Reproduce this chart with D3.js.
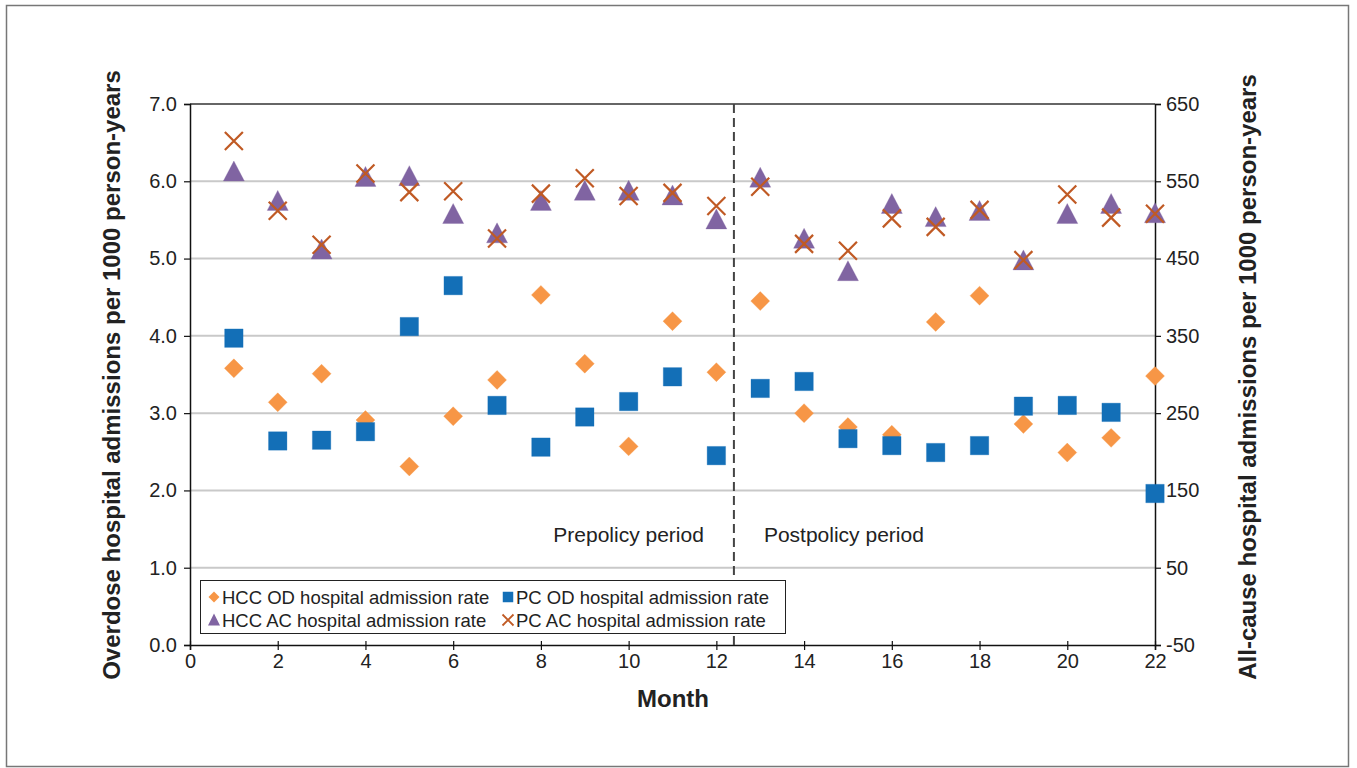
<!DOCTYPE html>
<html>
<head>
<meta charset="utf-8">
<script src="https://cdn.jsdelivr.net/npm/d3@7"></script>
<style>
  body { margin: 0; background: #fff; }
  svg { font-family: "Liberation Sans", Arial, sans-serif; }
  .tick text { fill: #222; }
</style>
</head>
<body>
<svg class="viz" width="1357" height="768"></svg>
<script>
// months 1..22
var months = d3.range(1, 23);

// overdose rates, per 1000 person-years (left axis)
var hccOD = [3.58, 3.14, 3.51, 2.91, 2.31, 2.96, 3.43, 4.53, 3.64, 2.57, 4.19, 3.53,
             4.45, 3.00, 2.82, 2.72, 4.18, 4.52, 2.86, 2.49, 2.68, 3.48];
var pcOD  = [3.97, 2.64, 2.65, 2.76, 4.12, 4.65, 3.10, 2.56, 2.95, 3.15, 3.47, 2.45,
             3.32, 3.41, 2.67, 2.58, 2.49, 2.58, 3.09, 3.10, 3.01, 1.96];

// all-cause rates, per 1000 person-years (right axis)
var hccAC = [562, 524, 461, 555, 556, 507, 482, 524, 537, 537, 531, 500,
             554, 475, 433, 520, 503, 511, 447, 507, 520, 508];
var pcAC  = [602, 512, 468, 560, 536, 537, 476, 534, 554, 531, 535, 518,
             543, 469, 460, 502, 491, 513, 448, 533, 503, 508];

var leftTicks = [0, 1, 2, 3, 4, 5, 6, 7];
var rightTicks = [-50, 50, 150, 250, 350, 450, 550, 650];
var xTicks = d3.range(0, 23, 2);
var policyMonth = 12.4;

var svg = d3.select(".viz"),
    margin = {top: 104, right: 202, bottom: 123, left: 190},
    width = +svg.attr("width"),
    height = +svg.attr("height");

var x0 = margin.left, x1 = width - margin.right,
    y0 = height - margin.bottom, y1 = margin.top;

var scaleX = d3.scaleLinear().domain([0, 22]).range([x0, x1]);
var scaleY = d3.scaleLinear().domain([0, 7]).range([y0, y1]);
var scaleY2 = d3.scaleLinear().domain([-50, 650]).range([y0, y1]);

// outer frame
svg.append("rect")
  .attr("x", 6.5).attr("y", 5.5)
  .attr("width", 1342).attr("height", 761)
  .attr("fill", "none")
  .attr("stroke", "#777")
  .attr("stroke-width", 1.5);

// gridlines
svg.append("g").selectAll("line")
  .data(leftTicks.slice(1, -1))
  .enter().append("line")
  .attr("x1", x0).attr("x2", x1)
  .attr("y1", function (d) { return scaleY(d); })
  .attr("y2", function (d) { return scaleY(d); })
  .style("stroke", "#c9c9c9")
  .style("stroke-width", "2px");

// top border of plot
svg.append("line")
  .attr("x1", x0).attr("x2", x1)
  .attr("y1", y1).attr("y2", y1)
  .style("stroke", "#333")
  .style("stroke-width", "1.5px");

// axes
var yAxis = d3.axisLeft(scaleY).tickValues(leftTicks)
  .tickFormat(d3.format(".1f")).tickSizeOuter(0).tickSize(6).tickPadding(7);
var yAxis2 = d3.axisRight(scaleY2).tickValues(rightTicks)
  .tickFormat(function (d) { return String(d); })
  .tickSizeOuter(0).tickSize(6).tickPadding(5);
var xAxis = d3.axisBottom(scaleX).tickValues(xTicks)
  .tickSizeOuter(0).tickSize(5).tickPadding(4);

function styleAxis(g) {
  g.selectAll(".domain").style("stroke", "#111").style("stroke-width", "1.5px");
  g.selectAll(".tick line").style("stroke", "#111").style("stroke-width", "1.2px");
  g.selectAll(".tick text").style("font-size", "20px");
}

svg.append("g").attr("class", "axis")
  .attr("transform", "translate(" + x0 + ",0)")
  .call(yAxis).call(styleAxis);

svg.append("g").attr("class", "axis")
  .attr("transform", "translate(" + x1 + ",0)")
  .call(yAxis2).call(styleAxis);

var gx = svg.append("g").attr("class", "axis")
  .attr("transform", "translate(0," + y0 + ")")
  .call(xAxis).call(styleAxis);
gx.selectAll(".tick line").attr("y1", -4);

// policy change line
svg.append("line")
  .attr("x1", scaleX(policyMonth)).attr("x2", scaleX(policyMonth))
  .attr("y1", y1).attr("y2", y0)
  .style("stroke", "#444")
  .style("stroke-width", "2px")
  .style("stroke-dasharray", "9,5");

svg.append("text").text("Prepolicy period")
  .attr("x", scaleX(policyMonth) - 30).attr("y", 542)
  .attr("text-anchor", "end")
  .attr("font-size", "21px").attr("fill", "#222");

svg.append("text").text("Postpolicy period")
  .attr("x", scaleX(policyMonth) + 30).attr("y", 542)
  .attr("font-size", "21px").attr("fill", "#222");

// marker shapes
var diamond = d3.symbol().type(d3.symbolSquare).size(180)();
var square = d3.symbol().type(d3.symbolSquare).size(340)();
var triangle = "M0,-11L10.5,9L-10.5,9Z";
var cross = "M-9,-9L9,9M9,-9L-9,9";

var colors = {
  hccOD: "#f79646",
  pcOD: "#136fb7",
  hccAC: "#8064a2",
  pcAC: "#c05a24"
};

function drawSeries(values, yScale, path, color, rotate, isLine) {
  svg.append("g").selectAll("path")
    .data(values)
    .enter().append("path")
    .attr("d", path)
    .attr("transform", function (d, i) {
      return "translate(" + scaleX(months[i]) + "," + yScale(d) + ")" + (rotate ? " rotate(45)" : "");
    })
    .attr("fill", isLine ? "none" : color)
    .attr("stroke", color)
    .attr("stroke-width", isLine ? 2.2 : 0.6)
    .attr("stroke-opacity", isLine ? 1 : 0.5);
}

drawSeries(hccOD, scaleY, diamond, colors.hccOD, true, false);
drawSeries(pcOD, scaleY, square, colors.pcOD, false, false);
drawSeries(hccAC, scaleY2, triangle, colors.hccAC, false, false);
drawSeries(pcAC, scaleY2, cross, colors.pcAC, false, true);

// legend
var legend = svg.append("g");
legend.append("rect")
  .attr("x", 200.5).attr("y", 580.5)
  .attr("width", 585).attr("height", 53)
  .attr("fill", "#fff")
  .attr("stroke", "#222")
  .attr("stroke-width", 1);

var legendItems = [
  {label: "HCC OD hospital admission rate", color: colors.hccOD, x: 214, y: 597,
   path: d3.symbol().type(d3.symbolSquare).size(60)(), rot: true, line: false},
  {label: "PC OD hospital admission rate", color: colors.pcOD, x: 508, y: 597,
   path: d3.symbol().type(d3.symbolSquare).size(110)(), rot: false, line: false},
  {label: "HCC AC hospital admission rate", color: colors.hccAC, x: 214, y: 620,
   path: "M0,-6.5L6,5.5L-6,5.5Z", rot: false, line: false},
  {label: "PC AC hospital admission rate", color: colors.pcAC, x: 508, y: 620,
   path: "M-5.5,-5.5L5.5,5.5M5.5,-5.5L-5.5,5.5", rot: false, line: true}
];

legendItems.forEach(function (d) {
  legend.append("path")
    .attr("d", d.path)
    .attr("transform", "translate(" + d.x + "," + d.y + ")" + (d.rot ? " rotate(45)" : ""))
    .attr("fill", d.line ? "none" : d.color)
    .attr("stroke", d.color)
    .attr("stroke-width", d.line ? 1.8 : 0);
  legend.append("text").text(d.label)
    .attr("x", d.x + 8).attr("y", d.y + 6.5)
    .attr("font-size", "18.5px").attr("fill", "#222");
});

// axis titles
svg.append("text").text("Month")
  .attr("x", 673).attr("y", 707)
  .attr("text-anchor", "middle")
  .attr("font-size", "24px").attr("font-weight", "bold").attr("fill", "#222");

svg.append("text").text("Overdose hospital admissions per 1000 person-years")
  .attr("transform", "translate(120,375) rotate(-90)")
  .attr("text-anchor", "middle")
  .attr("font-size", "24px").attr("font-weight", "bold").attr("fill", "#222");

svg.append("text").text("All-cause hospital admissions per 1000 person-years")
  .attr("transform", "translate(1256,377) rotate(-90)")
  .attr("text-anchor", "middle")
  .attr("font-size", "24px").attr("font-weight", "bold").attr("fill", "#222");
</script>
</body>
</html>
